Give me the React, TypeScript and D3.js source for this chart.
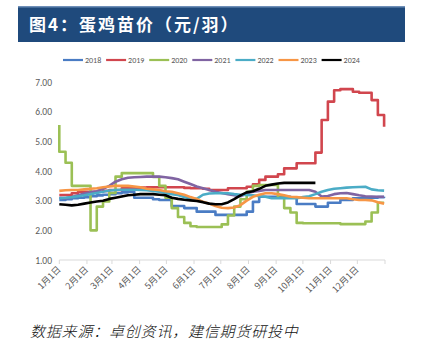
import React from "react";
import * as d3 from "d3";

const years = ["2018", "2019", "2020", "2021", "2022", "2023", "2024"];
const colors = ["#4A7CC4", "#D1464E", "#9BC055", "#8064A2", "#4BACC6", "#F79646", "#000000"];
const monthLabels = ["1月1日", "2月1日", "3月1日", "4月1日", "5月1日", "6月1日", "7月1日", "8月1日", "9月1日", "10月1日", "11月1日", "12月1日"];
const monthStartDays = [0, 31, 59, 90, 120, 151, 181, 212, 243, 273, 304, 334, 365];
const yTicks = [1, 2, 3, 4, 5, 6, 7];

// weekly values (week i = day 7*i)
const s2018 = [3.02, 3.05, 3.08, 3.1, 3.12, 3.15, 3.18, 3.2, 3.22, 3.25, 3.28, 3.3, 3.1, 3.1, 3.1, 3.05, 3.02, 3.02, 2.82, 2.82, 2.75, 2.75, 2.63, 2.63, 2.63, 2.52, 2.52, 2.52, 2.52, 2.52, 2.63, 2.96, 3.13, 3.13, 3.13, 3.13, 3.13, 3.1, 2.89, 2.89, 2.89, 2.8, 2.8, 2.93, 2.93, 3.02, 3.02, 3.08, 3.08, 3.1, 3.1, 3.12, 3.13];
const s2019 = [3.19, 3.19, 3.25, 3.3, 3.3, 3.3, 3.3, 3.33, 3.36, 3.36, 3.42, 3.42, 3.42, 3.44, 3.45, 3.45, 3.45, 3.45, 3.45, 3.45, 3.43, 3.42, 3.42, 3.4, 3.36, 3.36, 3.36, 3.42, 3.42, 3.42, 3.47, 3.55, 3.7, 3.81, 3.81, 3.89, 4.09, 4.09, 4.26, 4.26, 4.26, 4.62, 5.72, 6.34, 6.72, 6.76, 6.76, 6.67, 6.64, 6.64, 6.39, 5.89, 5.49];
const s2020 = [5.55, 4.65, 4.28, 3.5, 3.5, 3.5, 2.0, 2.8, 2.97, 3.26, 3.81, 3.93, 3.93, 3.93, 3.93, 3.93, 3.8, 3.5, 3.1, 2.75, 2.45, 2.25, 2.14, 2.11, 2.11, 2.11, 2.11, 2.2, 2.5, 2.8, 3.05, 3.3, 3.5, 3.53, 3.53, 3.53, 3.1, 2.75, 2.6, 2.25, 2.24, 2.24, 2.24, 2.24, 2.24, 2.24, 2.21, 2.21, 2.21, 2.21, 2.3, 2.6, 2.93];
const s2021 = [3.1, 3.08, 3.12, 3.18, 3.24, 3.28, 3.32, 3.4, 3.5, 3.64, 3.72, 3.77, 3.79, 3.8, 3.81, 3.81, 3.81, 3.79, 3.76, 3.72, 3.64, 3.56, 3.48, 3.42, 3.36, 3.3, 3.26, 3.22, 3.18, 3.15, 3.25, 3.3, 3.33, 3.36, 3.36, 3.36, 3.36, 3.36, 3.36, 3.36, 3.36, 3.3, 3.14, 3.16, 3.22, 3.25, 3.26, 3.22, 3.18, 3.15, 3.14, 3.13, 3.13];
const s2022 = [3.08, 3.1, 3.12, 3.15, 3.18, 3.22, 3.26, 3.3, 3.34, 3.36, 3.37, 3.37, 3.37, 3.36, 3.35, 3.33, 3.3, 3.26, 3.22, 3.19, 3.12, 3.08, 3.06, 3.2, 3.24, 3.25, 3.25, 3.25, 3.22, 3.2, 3.19, 3.18, 3.15, 3.13, 3.08, 3.08, 3.08, 3.08, 3.08, 3.12, 3.15, 3.22, 3.3, 3.36, 3.4, 3.42, 3.44, 3.45, 3.46, 3.47, 3.38, 3.35, 3.34];
const s2023 = [3.33, 3.35, 3.36, 3.36, 3.38, 3.4, 3.42, 3.45, 3.48, 3.5, 3.5, 3.5, 3.48, 3.45, 3.4, 3.38, 3.36, 3.32, 3.3, 3.25, 3.2, 3.12, 3.06, 2.96, 2.9, 2.82, 2.76, 2.75, 2.77, 2.85, 3.0, 3.13, 3.2, 3.25, 3.25, 3.22, 3.18, 3.13, 3.12, 3.1, 3.08, 3.08, 3.08, 3.08, 3.08, 3.08, 3.08, 3.05, 3.02, 3.02, 3.01, 2.95, 2.9];
const s2024 = [2.88, 2.86, 2.84, 2.86, 2.9, 2.94, 2.97, 3.0, 3.06, 3.1, 3.14, 3.18, 3.2, 3.22, 3.22, 3.22, 3.2, 3.18, 3.1, 3.06, 3.03, 3.01, 2.99, 2.95, 2.9, 2.88, 2.88, 2.94, 3.05, 3.18, 3.28, 3.32, 3.4, 3.5, 3.54, 3.58, 3.6, 3.6, 3.6, 3.6, 3.6, 3.6];

const seriesList = [s2018, s2019, s2020, s2021, s2022, s2023, s2024];
const curves = [d3.curveStepAfter, d3.curveStepAfter, d3.curveStepBefore, d3.curveLinear, d3.curveLinear, d3.curveLinear, d3.curveLinear];

export default function App() {
  const W = 422, H = 363;
  const x = d3.scaleLinear().domain([0, 365]).range([59.3, 385]);
  const y = d3.scaleLinear().domain([1, 7]).range([260, 82]);
  const cjk = "'Noto Sans CJK SC', 'Noto Sans', sans-serif";
  const latin = "Calibri, 'Liberation Sans', Arial, sans-serif";

  return (
    <svg width={W} height={H} style={{ position: "absolute", left: 0, top: 0, background: "#fff" }}>
      <rect x={0} y={0} width={W} height={H} fill="#fff" />
      {/* title bar */}
      <rect x={18} y={6} width={387} height={36} fill="#1F4A7C" />
      <rect x={18} y={6} width={387} height={1.5} fill="#6F8FB8" />
      <text x={29} y={31} fill="#fff" fontSize={17} fontWeight="bold" letterSpacing={2} fontFamily={cjk}>
        图4：蛋鸡苗价（元/羽）
      </text>

      {/* legend */}
      {years.map((yr, i) => {
        const lx = 63 + i * 43.1;
        return (
          <g key={yr}>
            <line x1={lx} x2={lx + 20} y1={60} y2={60} stroke={colors[i]} strokeWidth={2.2} />
            <text x={lx + 22} y={63} fontSize={8} fill="#595959" fontFamily={latin}>{yr}</text>
          </g>
        );
      })}

      {/* y axis labels */}
      {yTicks.map((t) => (
        <text key={t} x={52} y={y(t) + 3.5} textAnchor="end" fontSize={9.5} fill="#595959" fontFamily={latin}>
          {t.toFixed(2)}
        </text>
      ))}

      {/* x axis */}
      <line x1={x(0)} x2={x(365)} y1={y(1)} y2={y(1)} stroke="#D9D9D9" strokeWidth={1} />
      {monthStartDays.map((d) => (
        <line key={d} x1={x(d)} x2={x(d)} y1={y(1)} y2={y(1) + 4} stroke="#D9D9D9" strokeWidth={1} />
      ))}
      {monthLabels.map((lab, i) => {
        const px = x(monthStartDays[i]) + 2;
        const py = 270;
        return (
          <text key={lab} x={px} y={py} transform={`rotate(-45, ${px}, ${py})`} textAnchor="end" fontSize={9} fill="#595959" fontFamily={cjk}>
            {lab}
          </text>
        );
      })}

      {/* series */}
      {seriesList.map((s, i) => {
        const line = d3.line<number>()
          .x((_, j) => x(j * 7))
          .y((v) => y(v))
          .curve(curves[i]);
        return (
          <path key={years[i]} d={line(s) || ""} fill="none" stroke={colors[i]} strokeWidth={2.6} strokeLinejoin="round" />
        );
      })}

      {/* source */}
      <text x={30} y={337} fontSize={15} fontStyle="italic" fontWeight={300} letterSpacing={0.8} fill="#111" fontFamily={cjk}>
        数据来源：卓创资讯，建信期货研投中
      </text>
    </svg>
  );
}
